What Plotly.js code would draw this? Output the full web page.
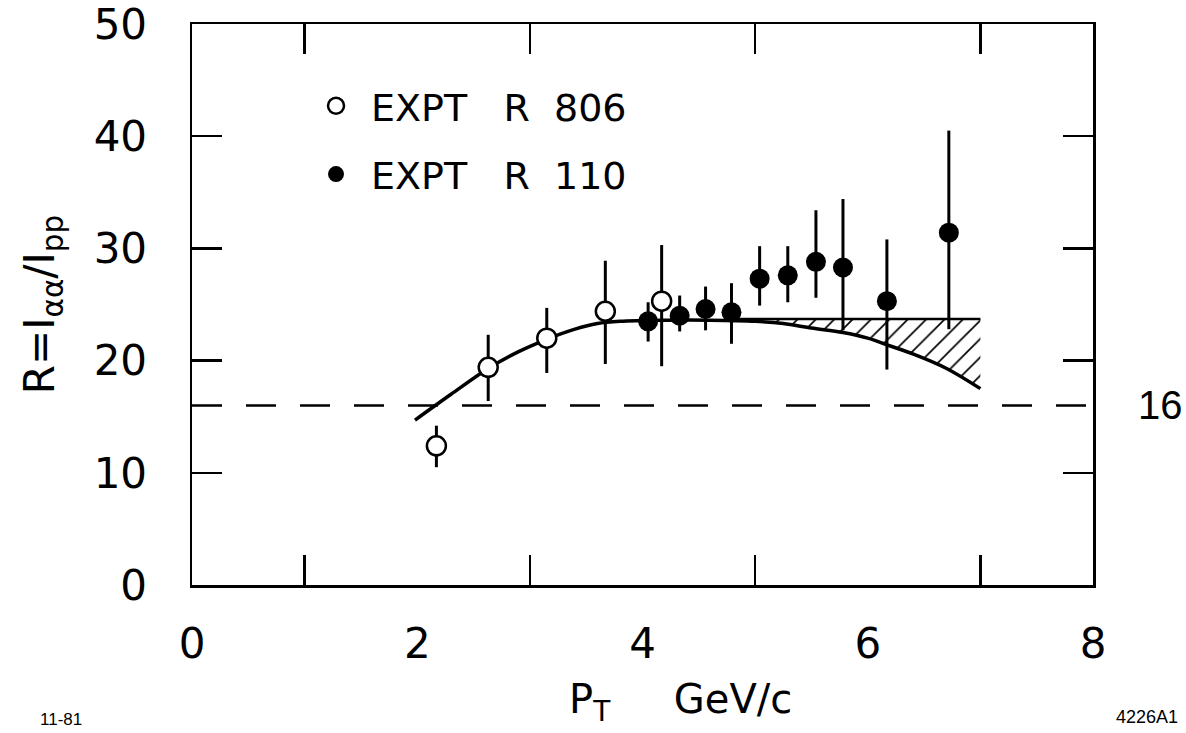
<!DOCTYPE html>
<html>
<head>
<meta charset="utf-8">
<script src="https://cdn.plot.ly/plotly-3.0.1.min.js"></script>
<style>html,body{margin:0;padding:0;background:#fff;}#chart{width:1186px;height:733px;}</style>
</head>
<body>
<div id="chart"></div>
<script>
// EXPT R 806 (open circles)
const r806X = [2.17, 2.63, 3.15, 3.67, 4.17];
const r806Y = [12.4, 19.4, 22.0, 24.4, 25.3];
const r806Up = [1.8, 2.9, 2.7, 4.5, 5.0];
const r806Down = [1.9, 3.0, 3.1, 4.7, 5.8];

// EXPT R 110 (filled circles)
const r110X = [4.05, 4.33, 4.56, 4.79, 5.04, 5.29, 5.54, 5.78, 6.17, 6.72];
const r110Y = [23.5, 24.0, 24.6, 24.3, 27.3, 27.6, 28.8, 28.3, 25.3, 31.4];
const r110Up = [1.7, 1.8, 2.0, 2.6, 2.9, 2.6, 4.6, 6.1, 5.5, 9.1];
const r110Down = [1.8, 1.4, 1.9, 2.8, 2.4, 2.4, 3.2, 5.6, 6.1, 8.6];

// Theory curve
const theoryX = [1.98, 2.3, 2.63, 2.9, 3.15, 3.4, 3.6, 3.8, 4.2, 4.6, 5.0, 5.25, 5.5, 5.78, 6.0, 6.2, 6.4, 6.7, 7.0];
const theoryY = [14.7, 17.0, 19.3, 20.8, 21.9, 22.8, 23.3, 23.5, 23.6, 23.6, 23.5, 23.3, 22.9, 22.5, 22.0, 21.3, 20.6, 19.3, 17.5];

// Upper edge of hatched band
const bandTopX = [4.8, 7.0];
const bandTopY = [23.7, 23.7];

// Dashed reference level
const refX = [0, 8];
const refY = [16, 16];

// Tick labels
const xTickVals = [0, 2, 4, 6, 8];
const xMinorVals = [1, 3, 5, 7];
const yTickVals = [0, 10, 20, 30, 40, 50];

const FONT = 'DejaVu Sans, Liberation Sans, sans-serif';
const FONT2 = 'Liberation Sans, Arial, sans-serif';

// hatched polygon: top edge then curve back
const hatchX = [], hatchY = [];
const bandStart = 5.0;
hatchX.push(bandStart); hatchY.push(bandTopY[0]);
hatchX.push(bandTopX[1]); hatchY.push(bandTopY[1]);
for (let i = theoryX.length - 1; i >= 0; i--) {
  if (theoryX[i] >= bandStart) { hatchX.push(theoryX[i]); hatchY.push(theoryY[i]); }
}

const traces = [
  {x: refX, y: refY, mode: 'lines', showlegend: false, hoverinfo: 'skip',
   line: {color: 'black', width: 2.5, dash: '30px,24px'}},
  {x: hatchX, y: hatchY, mode: 'lines', fill: 'toself', showlegend: false, hoverinfo: 'skip',
   line: {width: 0, color: 'rgba(0,0,0,0)'}, fillcolor: 'rgba(0,0,0,0)',
   fillpattern: {shape: '/', fgcolor: 'black', bgcolor: 'white', size: 13, solidity: 0.13}},
  {x: bandTopX, y: bandTopY, mode: 'lines', showlegend: false, hoverinfo: 'skip',
   line: {color: 'black', width: 2.5}},
  {x: theoryX, y: theoryY, mode: 'lines', showlegend: false, hoverinfo: 'skip',
   line: {color: 'black', width: 3.5, shape: 'spline', smoothing: 1}},
  {x: r110X, y: r110Y, mode: 'markers', name: 'EXPT&nbsp;&nbsp;&nbsp;R&nbsp;&nbsp;110', legendgroup: 'b', legendrank: 2,
   marker: {symbol: 'circle', size: 20, color: 'black'},
   error_y: {type: 'data', symmetric: false, array: r110Up, arrayminus: r110Down, color: 'black', thickness: 3, width: 0}},
  {x: r806X, y: r806Y, mode: 'markers', name: 'EXPT&nbsp;&nbsp;&nbsp;R&nbsp;&nbsp;806', legendgroup: 'a', legendrank: 1,
   marker: {symbol: 'circle', size: 19, color: 'white', line: {color: 'black', width: 2.5}},
   error_y: {type: 'data', symmetric: false, array: r806Up, arrayminus: r806Down, color: 'black', thickness: 3, width: 0}}
];

const layout = {
  width: 1186, height: 733,
  margin: {l: 192, r: 93, t: 24, b: 148},
  paper_bgcolor: 'white', plot_bgcolor: 'white',
  font: {family: FONT, color: 'black', size: 40},
  showlegend: true,
  legend: {x: 0.121, y: 0.91, xanchor: 'left', yanchor: 'top', bgcolor: 'rgba(0,0,0,0)',
           font: {family: FONT, size: 38, color: 'black'}, itemwidth: 60,
           traceorder: 'grouped', tracegroupgap: 16},
  xaxis: {
    range: [0, 8], tickvals: xTickVals, ticktext: xTickVals.map(String), ticks: '',
    showline: true, linecolor: 'black', linewidth: 2.5, mirror: 'ticks',
    showgrid: false, zeroline: false, tickfont: {family: FONT, size: 42},
    ticklabelstandoff: 20, ticklabeloverflow: 'allow', automargin: true,
    minor: {tickvals: xMinorVals, ticks: 'inside', ticklen: 30, tickwidth: 2.5, tickcolor: 'black', showgrid: false},
    title: {text: '&nbsp;&nbsp;&nbsp;&nbsp;&nbsp;&nbsp;P<sub>T</sub>&nbsp;&nbsp;&nbsp;&nbsp;&nbsp;GeV/c', font: {family: FONT, size: 40}, standoff: 18}
  },
  yaxis: {
    range: [0, 50], tickvals: yTickVals, ticktext: yTickVals.map(String), ticks: 'inside',
    ticklen: 30, tickwidth: 2.5, tickcolor: 'black',
    showline: true, linecolor: 'black', linewidth: 2.5, mirror: 'ticks',
    showgrid: false, zeroline: false, tickfont: {family: FONT, size: 42},
    ticklabelstandoff: 34, ticklabeloverflow: 'allow',
    title: {text: 'R=I<sub>αα</sub>/I<sub>pp</sub>', font: {family: FONT, size: 42}, standoff: 26}
  },
  annotations: [
    {xref: 'paper', yref: 'y', x: 1, y: 16, xanchor: 'center', yanchor: 'middle', xshift: 67,
     text: '16', showarrow: false, font: {family: FONT2, size: 40}},
    {xref: 'paper', yref: 'paper', x: -0.145, y: -0.24, xanchor: 'center', yanchor: 'middle',
     text: '11-81', showarrow: false, font: {family: FONT2, size: 17}},
    {xref: 'paper', yref: 'paper', x: 1.06, y: -0.235, xanchor: 'center', yanchor: 'middle',
     text: '4226A1', showarrow: false, font: {family: FONT2, size: 18}}
  ]
};

Plotly.newPlot('chart', traces, layout, {displayModeBar: false, staticPlot: true});
</script>
</body>
</html>
